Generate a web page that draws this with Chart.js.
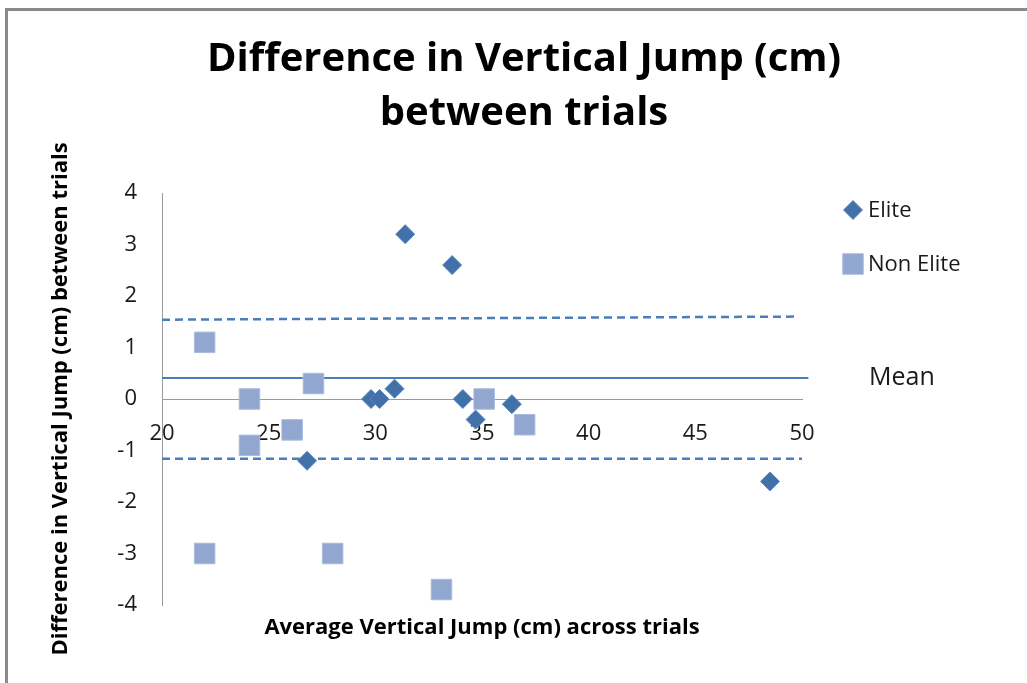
<!DOCTYPE html>
<html>
<head>
<meta charset="utf-8">
<script src="https://cdn.jsdelivr.net/npm/chart.js@4/dist/chart.umd.min.js"></script>
<style>
    body { margin: 0; background: #fff; overflow: hidden; }
    #frame { position: absolute; left: 5px; top: 8px; width: 1100px; height: 800px;
             border-top: 3px solid #8a8a8a; border-left: 3px solid #8a8a8a; }
    #chart { position: absolute; left: 0; top: 0; }
</style>
</head>
<body>
<div id="frame"></div>
<canvas id="chart" width="1027" height="683"></canvas>
<script>
// values
const eliteX = [31.4, 33.6, 30.9, 29.8, 30.2, 34.1, 34.7, 36.4, 26.8, 48.5];
const eliteY = [3.2, 2.6, 0.2, 0, 0, 0, -0.4, -0.1, -1.2, -1.6];

const nonEliteX = [22.0, 24.1, 27.1, 26.1, 24.1, 35.1, 37.0, 22.0, 28.0, 33.1];
const nonEliteY = [1.1, 0, 0.3, -0.6, -0.9, 0, -0.5, -3, -3, -3.7];

const meanX = [20, 50.3];
const meanY = [0.41, 0.41];
const upperX = [20, 49.8];
const upperY = [1.54, 1.6];
const lowerX = [20, 50];
const lowerY = [-1.16, -1.16];

const xTicks = [20, 25, 30, 35, 40, 45, 50];
const yTicks = [-4, -3, -2, -1, 0, 1, 2, 3, 4];

const toPoints = (xs, ys) => xs.map((x, i) => ({ x: x, y: ys[i] }));

const FONT = "'Open Sans', 'DejaVu Sans', sans-serif";
const lineColor = '#4A7EBB';

const sideLegend = {
    id: 'sideLegend',
    afterDraw(chart) {
        const { ctx, chartArea, scales } = chart;
        const items = chart.data.datasets.filter(d => d.inLegend);
        ctx.save();
        ctx.font = '22px ' + FONT;
        ctx.textBaseline = 'middle';
        items.forEach((d, i) => {
            const y = 210 + i * 54;
            const x = chartArea.right + 51;
            ctx.fillStyle = d.backgroundColor;
            ctx.strokeStyle = d.borderColor;
            ctx.lineWidth = 1;
            Chart.helpers.drawPoint(ctx, {
                pointStyle: d.pointStyle,
                radius: d.legendRadius,
                borderWidth: 1,
                rotation: 0
            }, x, y);
            ctx.fillStyle = '#1a1a1a';
            ctx.fillText(d.label, chartArea.right + 66, y + 1);
        });
        // label for the mean line
        ctx.font = '25px ' + FONT;
        ctx.fillText('Mean', chartArea.right + 67, scales.y.getPixelForValue(meanY[1]));
        ctx.restore();
    }
};

new Chart(document.getElementById('chart'), {
    type: 'scatter',
    data: {
        datasets: [
            {
                label: 'Elite',
                inLegend: true,
                legendRadius: 9.5,
                data: toPoints(eliteX, eliteY),
                pointStyle: 'rectRot',
                pointRadius: 9.5,
                pointHoverRadius: 9.5,
                backgroundColor: '#4271AA',
                borderColor: '#5a86bd',
                borderWidth: 1,
                order: 1
            },
            {
                label: 'Non Elite',
                inLegend: true,
                legendRadius: 14.5,
                data: toPoints(nonEliteX, nonEliteY),
                pointStyle: 'rect',
                pointRadius: 14.5,
                pointHoverRadius: 14.5,
                backgroundColor: '#91A7D0',
                borderColor: '#a9bbdc',
                borderWidth: 1,
                order: 1
            },
            {
                label: 'Mean',
                type: 'line',
                data: toPoints(meanX, meanY),
                borderColor: lineColor,
                borderWidth: 2,
                pointRadius: 0,
                clip: { left: 0, top: 0, right: 10, bottom: 0 },
                order: 2
            },
            {
                label: 'Upper limit',
                type: 'line',
                data: toPoints(upperX, upperY),
                borderColor: lineColor,
                borderWidth: 2.5,
                borderDash: [8, 5],
                pointRadius: 0,
                order: 2
            },
            {
                label: 'Lower limit',
                type: 'line',
                data: toPoints(lowerX, lowerY),
                borderColor: lineColor,
                borderWidth: 2.5,
                borderDash: [8, 5],
                pointRadius: 0,
                order: 2
            }
        ]
    },
    options: {
        responsive: false,
        animation: false,
        layout: { padding: { left: 40, right: 19, top: 0, bottom: 0 } },
        plugins: {
            legend: { display: false },
            tooltip: { enabled: false },
            title: {
                display: true,
                text: ['Difference in Vertical Jump (cm)', 'between trials'],
                color: '#000',
                font: { family: FONT, size: 40, weight: 'bold', lineHeight: 54 / 40 },
                padding: { top: 33, bottom: 52 }
            }
        },
        scales: {
            x: {
                type: 'linear',
                position: { y: 0 },
                min: 20,
                max: 50,
                afterBuildTicks: s => { s.ticks = xTicks.map(v => ({ value: v })); },
                grid: { display: false, drawTicks: false },
                border: { display: true, color: '#9a9a9a', width: 1 },
                ticks: { color: '#1a1a1a', padding: 22, font: { family: FONT, size: 22 } }
            },
            x2: {
                type: 'linear',
                position: 'bottom',
                min: 20,
                max: 50,
                grid: { display: false, drawTicks: false },
                border: { display: false },
                ticks: { display: false },
                title: {
                    display: true,
                    text: 'Average Vertical Jump (cm) across trials',
                    color: '#000',
                    font: { family: FONT, size: 22, weight: 'bold' },
                    padding: { top: 0, bottom: 42 }
                },
                afterFit: s => { s.height = 78; }
            },
            y: {
                min: -4,
                max: 4,
                afterBuildTicks: s => { s.ticks = yTicks.map(v => ({ value: v })); },
                grid: { display: false, drawTicks: false },
                border: { display: true, color: '#9a9a9a', width: 1 },
                ticks: { color: '#1a1a1a', padding: 25, font: { family: FONT, size: 22 } },
                title: {
                    display: true,
                    text: 'Difference in Vertical Jump (cm) between trials',
                    color: '#000',
                    font: { family: FONT, size: 22, weight: 'bold' },
                    padding: { top: 8, bottom: 0 }
                },
                afterFit: s => { s.width = 122; }
            },
            // empty right-hand axis that reserves the legend column
            yRight: {
                position: 'right',
                min: -4,
                max: 4,
                grid: { display: false, drawTicks: false },
                border: { display: false },
                ticks: { display: false },
                afterFit: s => { s.width = 206; }
            }
        }
    },
    plugins: [sideLegend]
});
</script>
</body>
</html>
